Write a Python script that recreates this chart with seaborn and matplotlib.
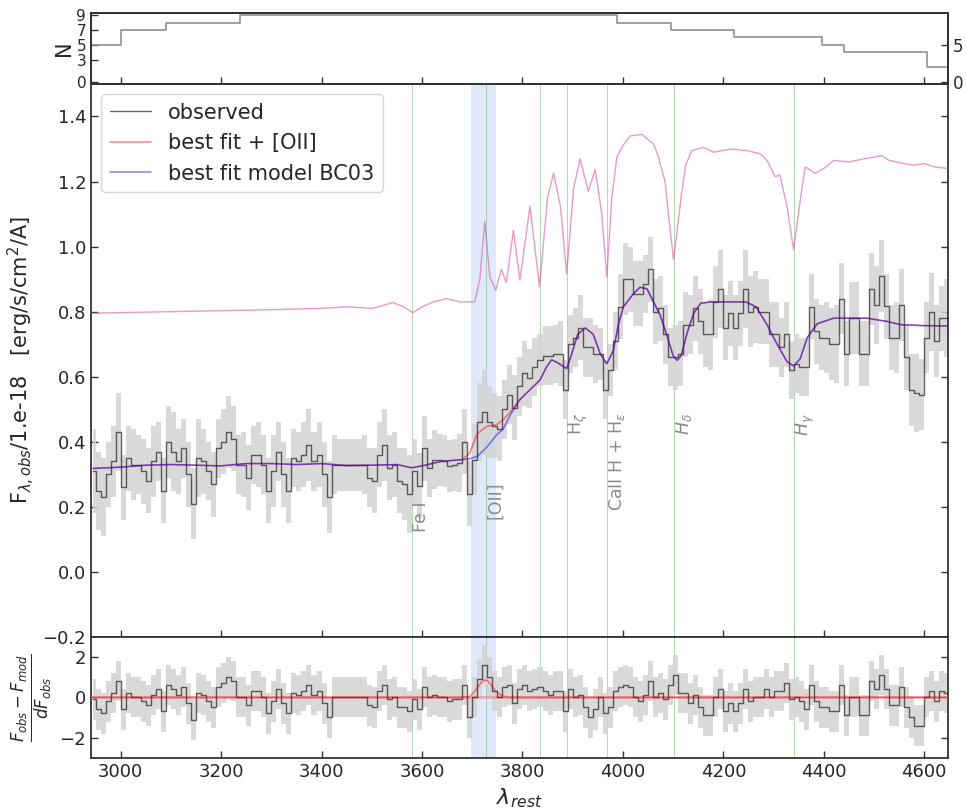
import numpy as np
import matplotlib
matplotlib.use('Agg')
import matplotlib.pyplot as plt
import seaborn as sns

sns.set_style('ticks')
plt.rcParams['font.family'] = ['DejaVu Sans']
plt.rcParams['mathtext.fontset'] = 'dejavusans'

# rest-frame wavelength grid of the observed spectrum (10 A bins)
lam = np.arange(2945, 4650, 10)

obs = [0.31, 0.25, 0.23, 0.30, 0.34, 0.43, 0.26, 0.35, 0.33, 0.33, 0.31,
       0.28, 0.34, 0.37, 0.25, 0.40, 0.37, 0.34, 0.38, 0.30, 0.21,
       0.35, 0.34, 0.31, 0.27, 0.38, 0.40, 0.43, 0.41, 0.33, 0.33,
       0.29, 0.36, 0.36, 0.33, 0.25, 0.31, 0.37, 0.30, 0.25, 0.35,
       0.34, 0.36, 0.39, 0.34, 0.36, 0.30, 0.23, 0.33, 0.33, 0.33,
       0.33, 0.33, 0.33, 0.33, 0.29, 0.28, 0.36, 0.39, 0.32, 0.33,
       0.28, 0.27, 0.24, 0.31, 0.265, 0.38, 0.32, 0.345, 0.345, 0.34,
       0.325, 0.33, 0.335, 0.40, 0.24, 0.345, 0.46, 0.49, 0.46, 0.45,
       0.44, 0.50, 0.545, 0.505, 0.57, 0.61, 0.595, 0.63, 0.65, 0.665,
       0.665, 0.67, 0.67, 0.56, 0.70, 0.72, 0.75, 0.69, 0.69, 0.67,
       0.67, 0.56, 0.62, 0.71, 0.815, 0.90, 0.90, 0.855, 0.855, 0.885,
       0.93, 0.80, 0.81, 0.73, 0.66, 0.66, 0.67, 0.76, 0.76, 0.81,
       0.77, 0.73, 0.73, 0.83, 0.87, 0.75, 0.795, 0.75, 0.795, 0.87,
       0.80, 0.815, 0.80, 0.80, 0.73, 0.73, 0.69, 0.73, 0.62, 0.64,
       0.63, 0.63, 0.815, 0.74, 0.72, 0.72, 0.70, 0.70, 0.84, 0.67,
       0.78, 0.78, 0.67, 0.67, 0.87, 0.82, 0.91, 0.816, 0.72, 0.72,
       0.82, 0.66, 0.56, 0.55, 0.545, 0.72, 0.80, 0.71, 0.78, 0.78]

obs_err = [0.13, 0.12, 0.12, 0.10, 0.11, 0.12, 0.10, 0.10, 0.11, 0.09, 0.10,
           0.10, 0.11, 0.09, 0.10, 0.11, 0.12, 0.10, 0.09, 0.10, 0.11,
           0.12, 0.10, 0.09, 0.10, 0.09, 0.10, 0.11, 0.10, 0.09, 0.10,
           0.10, 0.09, 0.10, 0.09, 0.10, 0.11, 0.09, 0.10, 0.10, 0.09,
           0.09, 0.10, 0.11, 0.09, 0.10, 0.10, 0.11, 0.09, 0.08, 0.08,
           0.08, 0.08, 0.08, 0.09, 0.09, 0.10, 0.10, 0.11, 0.10, 0.10,
           0.10, 0.11, 0.12, 0.10, 0.10, 0.10, 0.09, 0.09, 0.08, 0.08,
           0.08, 0.08, 0.09, 0.10, 0.10, 0.11, 0.12, 0.13, 0.11, 0.10,
           0.10, 0.09, 0.09, 0.10, 0.09, 0.10, 0.09, 0.09, 0.08, 0.09,
           0.09, 0.09, 0.10, 0.09, 0.09, 0.09, 0.10, 0.09, 0.09, 0.09,
           0.08, 0.09, 0.08, 0.09, 0.10, 0.11, 0.10, 0.10, 0.10, 0.09,
           0.10, 0.10, 0.10, 0.09, 0.09, 0.10, 0.10, 0.10, 0.09, 0.10,
           0.10, 0.10, 0.11, 0.11, 0.12, 0.10, 0.10, 0.10, 0.10, 0.12,
           0.11, 0.11, 0.10, 0.10, 0.10, 0.10, 0.09, 0.10, 0.09, 0.09,
           0.09, 0.09, 0.10, 0.10, 0.10, 0.11, 0.11, 0.12, 0.11, 0.10,
           0.11, 0.11, 0.10, 0.10, 0.11, 0.12, 0.11, 0.10, 0.10, 0.11,
           0.11, 0.10, 0.11, 0.12, 0.11, 0.11, 0.12, 0.11, 0.10, 0.12]

# (F_obs - F_mod) / dF_obs on the same grid
resid = [-0.1, -0.6, -0.8, -0.2, 0.2, 0.8, -0.6, 0.2, 0.0, 0.0, -0.2,
         -0.4, 0.1, 0.4, -0.7, 0.6, 0.4, 0.1, 0.5, -0.3, -1.1,
         0.2, 0.1, -0.2, -0.5, 0.5, 0.7, 1.0, 0.8, 0.0, 0.0,
         -0.4, 0.3, 0.3, 0.0, -0.8, -0.2, 0.4, -0.3, -0.8, 0.2,
         0.1, 0.3, 0.6, 0.1, 0.3, -0.3, -1.0, 0.0, 0.0, 0.0,
         0.0, 0.0, 0.0, 0.0, -0.4, -0.5, 0.3, 0.6, -0.1, 0.0,
         -0.5, -0.5, -0.7, -0.1, -0.6, 0.5, 0.0, 0.1, 0.0, 0.0,
         -0.2, -0.1, -0.1, 0.6, -1.0, 0.0, 0.9, 1.6, 1.0, 0.3,
         0.0, 0.5, 0.6, -0.3, 0.4, 0.6, 0.3, 0.4, 0.5, 0.3,
         0.1, 0.3, 0.3, -0.7, 0.4, 0.0, 0.1, -0.5, -1.0, -0.6,
         0.0, -0.8, -0.5, 0.3, 0.5, 0.6, 0.5, 0.0, -0.2, 0.1,
         0.8, 0.0, 0.2, -0.1, 0.6, 1.1, 0.2, 0.2, -0.3, 0.1,
         -0.5, -0.9, -0.9, 0.0, 0.4, -0.7, -0.3, -0.7, -0.3, 0.4,
         -0.2, 0.0, 0.0, 0.4, 0.0, 0.3, 0.3, 0.7, -0.1, 0.0,
         -0.2, -0.6, 0.6, -0.2, -0.5, -0.5, -0.7, -0.7, 0.6, -0.9,
         0.0, 0.0, -0.9, -0.9, 0.8, 0.4, 1.1, 0.4, -0.4, -0.4,
         0.5, -0.5, -1.0, -1.4, -1.4, 0.0, 0.3, -0.2, 0.3, 0.2]

# best fit models
mod_lam = [2945, 3000, 3050, 3100, 3150, 3200, 3250, 3300, 3350, 3400,
           3450, 3500, 3550, 3580, 3600, 3640, 3680, 3695, 3710, 3730,
           3748, 3762, 3775, 3795, 3815, 3835, 3848, 3858, 3870, 3888,
           3897, 3910, 3925, 3941, 3955, 3968, 3981, 3991, 4001, 4021,
           4034, 4048, 4061, 4074, 4087, 4100, 4108, 4116, 4128, 4141,
           4155, 4175, 4215, 4245, 4265, 4287, 4307, 4327, 4340, 4353,
           4367, 4387, 4420, 4486, 4526, 4553, 4600, 4648]
mod_bc03 = [0.318, 0.322, 0.328, 0.330, 0.328, 0.326, 0.333, 0.333, 0.330, 0.333,
            0.327, 0.328, 0.330, 0.320, 0.326, 0.340, 0.345, 0.348, 0.355, 0.385,
            0.420, 0.440, 0.480, 0.530, 0.560, 0.590, 0.630, 0.652, 0.643, 0.625,
            0.665, 0.730, 0.750, 0.730, 0.670, 0.640, 0.680, 0.760, 0.815, 0.855,
            0.875, 0.870, 0.830, 0.790, 0.730, 0.665, 0.650, 0.665, 0.735, 0.795,
            0.826, 0.830, 0.830, 0.830, 0.815, 0.760, 0.700, 0.646, 0.633, 0.655,
            0.720, 0.763, 0.780, 0.780, 0.770, 0.760, 0.757, 0.756]
mod_oii = [0.318, 0.322, 0.328, 0.330, 0.328, 0.326, 0.333, 0.333, 0.330, 0.333,
           0.327, 0.328, 0.330, 0.320, 0.326, 0.340, 0.345, 0.365, 0.425, 0.448,
           0.452, 0.468, 0.490, 0.530, 0.560, 0.590, 0.630, 0.652, 0.643, 0.625,
           0.665, 0.730, 0.750, 0.730, 0.670, 0.640, 0.680, 0.760, 0.815, 0.855,
           0.875, 0.870, 0.830, 0.790, 0.730, 0.665, 0.650, 0.665, 0.735, 0.795,
           0.826, 0.830, 0.830, 0.830, 0.815, 0.760, 0.700, 0.646, 0.633, 0.655,
           0.720, 0.763, 0.780, 0.780, 0.770, 0.760, 0.757, 0.756]

# high resolution template (offset)
tpl_lam = [2941, 3000, 3100, 3200, 3300, 3400, 3450, 3500, 3516, 3542,
           3562, 3582, 3602, 3622, 3649, 3675, 3705, 3715, 3725, 3735,
           3747, 3758, 3768, 3782, 3795, 3815, 3834, 3850, 3862, 3876,
           3888, 3902, 3915, 3931, 3945, 3958, 3968, 3978, 3988, 4000,
           4014, 4038, 4061, 4070, 4084, 4092, 4101, 4108, 4117, 4125,
           4137, 4161, 4181, 4214, 4247, 4274, 4287, 4303, 4313, 4327,
           4340, 4353, 4363, 4383, 4400, 4420, 4450, 4480, 4500, 4515,
           4530, 4560, 4580, 4600, 4620, 4648]
tpl_flux = [0.795, 0.797, 0.800, 0.803, 0.806, 0.810, 0.815, 0.810, 0.816, 0.828,
            0.816, 0.797, 0.816, 0.830, 0.840, 0.830, 0.830, 0.897, 1.078, 0.907,
            0.866, 0.930, 0.890, 1.050, 0.897, 1.124, 0.876, 1.150, 1.226, 1.120,
            0.917, 1.180, 1.270, 1.170, 1.237, 1.100, 0.907, 1.150, 1.275, 1.310,
            1.340, 1.345, 1.315, 1.280, 1.200, 1.080, 0.960, 1.050, 1.165, 1.250,
            1.295, 1.305, 1.290, 1.300, 1.295, 1.285, 1.265, 1.215, 1.220, 1.120,
            0.990, 1.140, 1.245, 1.225, 1.240, 1.265, 1.260, 1.270, 1.275, 1.280,
            1.265, 1.255, 1.250, 1.255, 1.245, 1.240]

# [OII] emission component in residual units
oii_lam = [2941, 3680, 3695, 3705, 3715, 3722, 3730, 3738, 3748, 3758, 3770, 4648]
oii_resid = [0.0, 0.0, 0.05, 0.30, 0.65, 0.85, 0.85, 0.60, 0.30, 0.10, 0.0, 0.0]

# number of spectra contributing
n_lam = [2941, 3001, 3091, 3238, 3988, 4095, 4221, 4396, 4440, 4605, 4648]
n_count = [5, 7, 8, 9, 8, 7, 6, 5, 4, 2, 2]

line_lam = [3581, 3727, 3835, 3889, 3969, 4102, 4340]
line_txt = ['Fe I', '[OII]', '', r'H$_\zeta$', r'CaII H + H$_\epsilon$', r'$H_\delta$', r'$H_\gamma$']
line_txt_y = [0.215, 0.277, 0.0, 0.489, 0.489, 0.489, 0.489]

assert len(obs) == len(lam) == len(obs_err) == len(resid)
assert len(mod_lam) == len(mod_bc03) == len(mod_oii)
assert len(tpl_lam) == len(tpl_flux)

obs = np.array(obs)
obs_err = np.array(obs_err)
resid = np.array(resid)

fig = plt.figure(figsize=(9.67, 8.11), dpi=100)
ax_n = fig.add_axes([0.0941, 0.8964, 0.8866, 0.0876])
ax = fig.add_axes([0.0941, 0.2146, 0.8866, 0.6819], sharex=ax_n)
ax_r = fig.add_axes([0.0941, 0.0657, 0.8866, 0.1488], sharex=ax_n)

spine_c = '#333333'

# --- top: number of spectra
sns.lineplot(x=n_lam, y=n_count, drawstyle='steps-post', color='#909090', lw=1.2, ax=ax_n)
ax_n.set_ylim(-0.3, 9.3)
ax_n.set_yticks([0, 3, 5, 7, 9])
ax_n.set_ylabel('N', fontsize=15, labelpad=2)
ax_n2 = ax_n.twinx()
ax_n2.set_ylim(-0.3, 9.3)
ax_n2.set_yticks([0, 5])

# --- main spectrum
for a in (ax, ax_r):
    a.axvspan(3697, 3747, color='cornflowerblue', alpha=0.2, lw=0, zorder=0)
    for l in line_lam:
        a.axvline(l, color='#4caf50', lw=0.7, alpha=0.45, zorder=1)

ax.fill_between(lam, obs - obs_err, obs + obs_err, step='mid', color='#d3d3d3', alpha=0.85, lw=0, zorder=2)
sns.lineplot(x=tpl_lam, y=tpl_flux, color='#d6589f', alpha=0.6, lw=1, ax=ax, zorder=3)
sns.lineplot(x=lam, y=obs, drawstyle='steps-mid', color='k', alpha=0.6, lw=1, ax=ax,
             label='observed', zorder=4)
sns.lineplot(x=mod_lam, y=mod_oii, color='red', alpha=0.5, lw=1.1, ax=ax,
             label='best fit + [OII]', zorder=5)
sns.lineplot(x=mod_lam, y=mod_bc03, color='blue', alpha=0.5, lw=1.1, ax=ax,
             label='best fit model BC03', zorder=6)

for l, t, y in zip(line_lam, line_txt, line_txt_y):
    if t:
        ax.text(l, y, t, rotation=90, ha='left', va='top', color='#8a8a8a', fontsize=12.5)

ax.set_ylim(-0.2, 1.5)
ax.set_yticks(np.arange(-0.2, 1.41, 0.2))
ax.set_ylabel(r'F$_{\lambda, obs}$/1.e-18   [erg/s/cm$^2$/A]', fontsize=15)
ax.legend(loc='upper left', fontsize=15, borderaxespad=0.5)

# --- residuals
ax_r.fill_between(lam, resid - 1, resid + 1, step='mid', color='#d3d3d3', alpha=0.85, lw=0, zorder=2)
ax_r.axhline(0, color='#f08080', lw=2, alpha=0.6, zorder=3)
sns.lineplot(x=lam, y=resid, drawstyle='steps-mid', color='k', alpha=0.6, lw=1, ax=ax_r, zorder=4)
sns.lineplot(x=oii_lam, y=oii_resid, color='red', alpha=0.5, lw=1.1, ax=ax_r, zorder=5)
ax_r.set_ylim(-3, 3)
ax_r.set_yticks([-2, 0, 2])
ax_r.set_ylabel(r'$\frac{F_{obs} - F_{mod}}{dF_{obs}}$', fontsize=17)
ax_r.set_xlabel(r'$\lambda_{rest}$', fontsize=16)

ax_r.set_xlim(2941, 4648)
ax_r.set_xticks(np.arange(3000, 4601, 200))

for a in (ax_n, ax_n2, ax, ax_r):
    for s in a.spines.values():
        s.set_color(spine_c)
        s.set_linewidth(1.3)
    a.tick_params(direction='in', labelsize=13, length=5, width=1, color=spine_c)

# the N panel is very short: smaller labels so they do not collide
ax_n.tick_params(labelbottom=False, labelsize=11)
ax_n2.tick_params(labelsize=12)
ax.tick_params(labelbottom=False, right=True)
ax_r.tick_params(right=True)

fig.savefig('out.png', dpi=100)
